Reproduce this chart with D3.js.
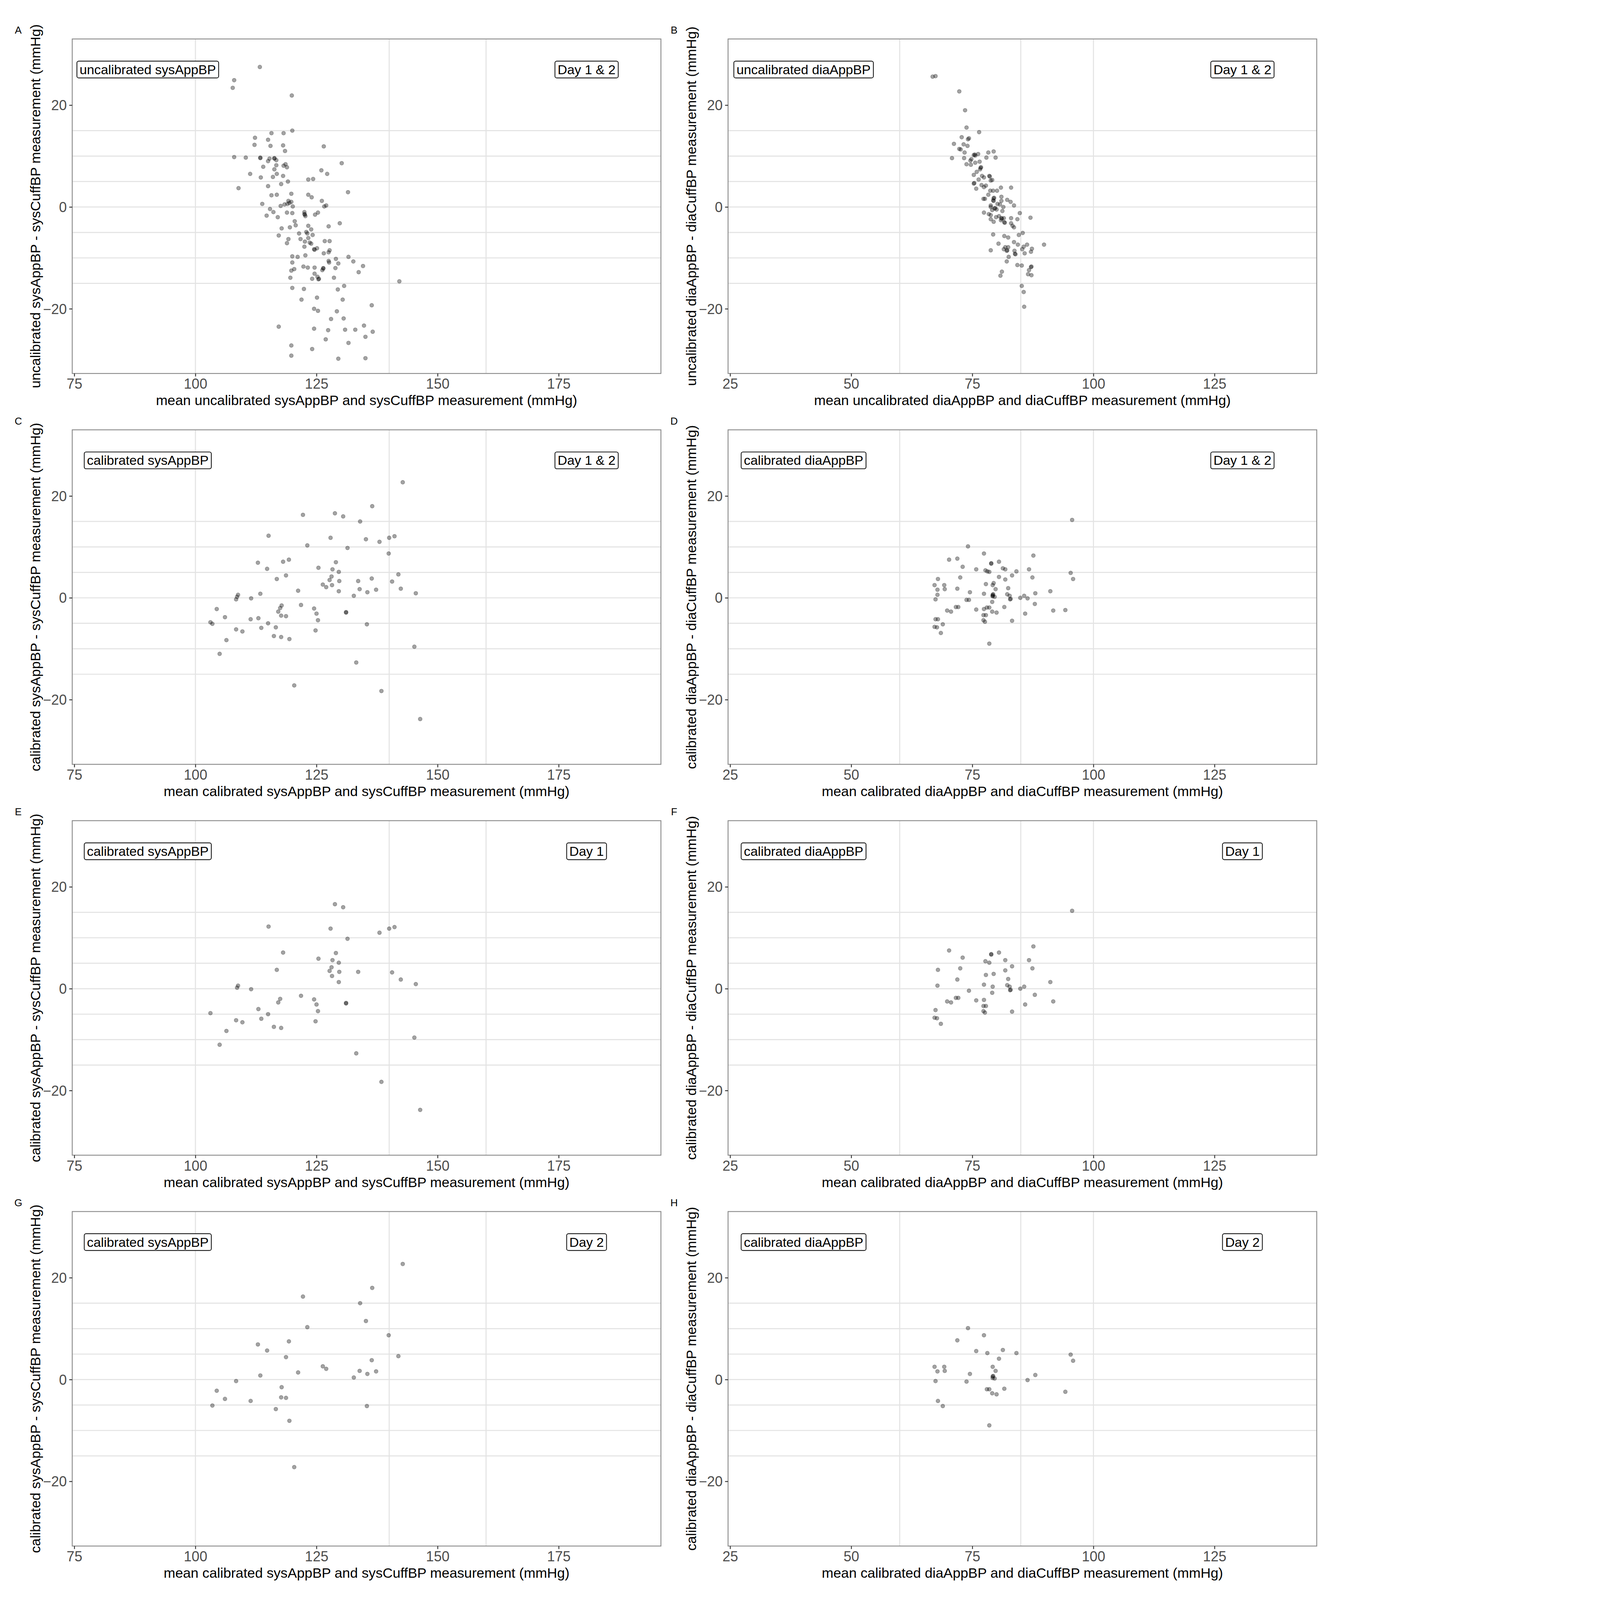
<!DOCTYPE html>
<html><head><meta charset="utf-8">
<script src="https://cdn.jsdelivr.net/npm/d3@7"></script>
<style>html,body{margin:0;padding:0;width:100%;height:100%;overflow:hidden;background:#fff}svg{display:block}</style>
</head><body>
<script>
// ---------- DATA ----------
// Panel A: uncalibrated systolic, Day 1 & 2  [mean, difference]
const sysUncal = [[113.3,27.5],[108.0,24.9],[107.7,23.4],[119.9,21.9],[120.0,15.0],[115.7,14.5],[118.2,14.5],[112.3,13.6],[115.0,13.2],[112.2,12.2],[115.5,12.0],[118.1,12.1],[126.5,11.9],[118.5,11.0],[108.0,9.8],[110.4,9.7],[113.4,9.6],[113.4,9.7],[115.3,9.5],[116.3,9.5],[116.3,9.6],[116.7,9.2],[115.0,9.0],[130.2,8.6],[118.6,8.4],[118.2,8.1],[116.7,8.2],[114.0,7.9],[118.9,7.8],[116.3,7.4],[126.0,7.2],[127.2,6.5],[111.3,6.5],[116.8,6.5],[113.5,5.8],[116.0,5.9],[118.1,6.1],[123.3,5.4],[124.3,5.5],[119.1,5.0],[117.7,4.5],[115.0,4.1],[108.9,3.7],[131.5,2.9],[115.7,2.3],[116.8,2.4],[119.8,2.6],[123.3,2.4],[124.0,1.9],[126.1,1.2],[119.2,1.2],[119.8,1.0],[113.8,0.6],[118.4,0.5],[119.0,0.6],[119.4,0.8],[117.6,0.2],[126.6,0.1],[127.0,0.3],[120.1,0.1],[115.4,-0.4],[116.1,-1.0],[118.9,-1.1],[120.0,-1.2],[122.5,-1.0],[122.5,-1.4],[122.6,-1.5],[122.7,-1.8],[125.3,-1.1],[124.7,-1.5],[114.7,-1.7],[117.0,-2.0],[120.5,-2.8],[129.8,-3.2],[120.7,-3.6],[123.3,-3.7],[127.5,-3.8],[117.8,-4.2],[119.5,-4.0],[123.9,-4.4],[122.9,-4.9],[123.1,-5.2],[121.4,-5.2],[124.2,-5.5],[117.2,-5.6],[119.2,-6.3],[121.7,-6.3],[123.3,-6.1],[126.7,-6.7],[127.7,-6.7],[122.6,-6.8],[123.6,-7.0],[118.9,-7.1],[123.9,-7.2],[122.5,-7.8],[124.6,-8.4],[124.5,-8.3],[125.1,-8.1],[127.7,-8.5],[127.5,-8.9],[126.5,-9.1],[120.0,-9.7],[121.1,-9.8],[122.7,-9.5],[129.0,-10.2],[131.6,-9.8],[129.5,-11.1],[132.6,-10.7],[127.6,-10.9],[127.5,-10.6],[120.0,-10.9],[122.3,-11.7],[123.2,-11.9],[124.6,-11.9],[126.4,-12.1],[126.4,-12.0],[128.9,-12.0],[134.6,-11.6],[120.4,-12.2],[119.8,-12.5],[126.2,-12.4],[133.7,-12.8],[124.6,-13.1],[119.6,-13.9],[125.2,-13.7],[125.4,-14.2],[125.5,-14.1],[124.1,-14.1],[128.6,-13.9],[142.1,-14.6],[130.7,-15.5],[120.0,-15.9],[122.4,-16.1],[129.4,-16.2],[125.1,-17.8],[121.9,-18.2],[130.4,-18.2],[136.4,-19.3],[124.5,-20.0],[125.3,-20.4],[129.2,-20.5],[130.6,-21.9],[128.0,-22.0],[117.2,-23.5],[134.8,-23.3],[124.5,-23.9],[127.4,-24.2],[130.9,-24.1],[133.0,-24.1],[136.6,-24.5],[135.1,-25.5],[126.9,-26.0],[131.6,-26.7],[119.8,-27.2],[124.1,-27.9],[119.8,-29.2],[135.1,-29.7],[129.5,-29.8]];
// Panel B: uncalibrated diastolic, Day 1 & 2
const diaUncal = [[66.8,25.6],[67.4,25.7],[72.3,22.7],[73.5,19.0],[73.8,15.6],[76.4,14.7],[72.8,13.7],[74.3,13.5],[74.1,13.3],[71.2,12.4],[73.2,12.3],[74.0,12.0],[72.3,11.4],[72.6,11.3],[78.3,10.7],[79.4,10.9],[73.4,10.7],[76.2,10.4],[75.3,10.2],[75.6,10.1],[75.5,10.3],[70.8,9.6],[73.3,9.6],[77.9,9.7],[79.8,9.7],[74.8,9.4],[74.6,9.1],[76.5,8.9],[75.6,8.7],[73.8,8.4],[74.7,8.3],[76.7,7.7],[76.8,7.8],[76.6,7.4],[75.9,6.9],[75.3,6.3],[77.0,6.1],[77.4,5.8],[78.5,6.1],[78.6,6.0],[78.8,5.2],[76.3,5.4],[79.1,5.3],[75.3,4.6],[75.4,4.7],[76.9,4.3],[77.4,3.9],[77.8,4.2],[75.8,3.6],[78.7,3.2],[79.3,3.2],[80.1,3.2],[80.9,3.8],[83.0,3.8],[78.3,2.4],[81.0,2.0],[77.3,1.6],[77.6,1.6],[79.4,1.7],[79.5,1.8],[79.3,1.3],[79.4,1.2],[82.2,1.4],[81.0,1.2],[82.9,1.0],[80.2,0.6],[80.7,0.5],[78.8,0.3],[78.8,0.0],[83.6,0.3],[79.6,-0.3],[79.7,-0.2],[79.1,-0.6],[80.0,-0.5],[81.4,0.0],[77.4,-1.1],[78.4,-1.4],[81.2,-0.8],[84.8,-1.2],[78.8,-1.6],[80.5,-1.8],[79.9,-2.0],[81.0,-2.2],[81.1,-2.3],[81.5,-2.2],[87.0,-2.1],[78.8,-2.4],[83.0,-2.2],[84.3,-2.4],[80.9,-2.6],[81.6,-3.0],[81.7,-3.1],[79.4,-2.9],[83.0,-3.2],[83.3,-3.7],[83.6,-4.0],[79.3,-5.4],[81.6,-5.7],[85.4,-5.1],[84.6,-5.5],[82.4,-6.0],[80.4,-7.2],[83.6,-6.9],[84.4,-7.4],[86.3,-7.4],[89.8,-7.4],[85.6,-7.8],[81.8,-7.9],[82.4,-7.9],[78.8,-8.5],[81.5,-8.3],[87.3,-8.2],[85.3,-8.3],[82.1,-8.6],[82.2,-8.5],[83.7,-8.6],[83.9,-9.3],[83.8,-9.2],[87.1,-8.8],[85.8,-9.1],[82.5,-9.8],[82.1,-10.7],[84.3,-11.4],[85.2,-11.5],[87.1,-11.8],[87.2,-11.7],[86.7,-12.4],[81.1,-12.7],[80.8,-13.5],[86.5,-13.2],[87.2,-13.4],[85.2,-15.5],[85.6,-16.7],[85.7,-19.6]];
// Panel E: calibrated systolic, Day 1
const sysCalDay1 = [[128.8,16.6],[130.5,16.0],[115.1,12.2],[127.9,11.8],[138.0,11.0],[140.0,11.8],[141.1,12.1],[131.4,9.8],[118.1,7.1],[129.0,7.0],[125.4,5.9],[128.3,5.6],[129.6,5.1],[128.1,4.2],[127.7,3.5],[129.7,3.3],[133.6,3.3],[140.6,3.2],[116.8,3.7],[128.2,2.5],[142.4,1.8],[129.6,1.3],[145.5,0.9],[108.8,0.6],[108.6,0.2],[111.5,-0.1],[121.8,-1.4],[117.5,-2.0],[117.1,-2.7],[124.5,-2.1],[125.0,-3.1],[131.1,-2.8],[131.1,-2.9],[125.3,-4.4],[113.0,-4.0],[103.1,-4.8],[115.0,-5.0],[113.6,-5.9],[108.4,-6.2],[109.7,-6.6],[124.8,-6.4],[116.2,-7.5],[117.7,-7.7],[106.4,-8.3],[145.2,-9.6],[105.0,-11.0],[133.2,-12.7],[138.4,-18.3],[146.4,-23.8]];
// Panel G: calibrated systolic, Day 2
const sysCalDay2 = [[142.8,22.7],[136.5,18.0],[122.2,16.3],[134.0,15.0],[135.2,11.5],[123.1,10.3],[139.9,8.7],[119.3,7.5],[112.9,6.9],[114.8,5.7],[118.7,4.4],[141.9,4.6],[136.4,3.8],[126.3,2.6],[127.0,2.1],[133.9,1.7],[135.5,1.1],[137.3,1.6],[121.2,1.4],[113.4,0.8],[132.7,0.4],[108.4,-0.3],[117.8,-1.5],[104.4,-2.2],[106.1,-3.8],[111.4,-4.2],[117.7,-3.5],[118.7,-3.6],[103.5,-5.1],[135.4,-5.2],[116.6,-5.8],[119.4,-8.1],[120.4,-17.2]];
// Panel F: calibrated diastolic, Day 1
const diaCalDay1 = [[95.6,15.3],[87.6,8.3],[70.2,7.5],[80.5,7.1],[78.9,6.8],[78.9,6.7],[73.0,6.1],[77.7,5.4],[78.5,5.1],[81.8,5.6],[86.7,5.6],[83.2,4.4],[87.4,4.0],[67.9,3.7],[72.5,4.0],[81.8,3.6],[77.8,2.7],[79.4,2.9],[71.9,1.8],[82.4,1.9],[91.1,1.3],[67.8,0.6],[77.4,0.8],[79.2,0.4],[82.2,0.7],[82.7,0.4],[82.8,-0.3],[82.9,-0.2],[84.9,0.0],[85.7,0.4],[74.3,-0.4],[79.1,-0.8],[87.9,-1.2],[71.6,-1.8],[72.1,-1.8],[69.8,-2.5],[70.6,-2.7],[75.8,-2.3],[77.4,-2.2],[91.7,-2.5],[77.3,-3.4],[77.8,-3.4],[85.9,-3.1],[67.4,-4.2],[77.3,-4.4],[77.6,-4.7],[83.2,-4.5],[67.2,-5.7],[67.7,-5.8],[68.5,-6.9]];
// Panel H: calibrated diastolic, Day 2
const diaCalDay2 = [[74.1,10.1],[77.4,8.7],[71.9,7.7],[75.8,5.6],[78.1,5.2],[81.3,5.8],[84.1,5.2],[80.5,4.1],[95.3,4.9],[95.8,3.7],[67.2,2.5],[69.2,2.5],[67.8,1.6],[69.3,1.7],[79.2,2.5],[79.8,1.7],[74.5,1.1],[88.0,0.9],[79.2,0.6],[79.3,0.7],[79.2,0.3],[79.6,0.2],[67.4,-0.3],[73.8,-0.4],[86.4,-0.1],[78.0,-1.9],[78.5,-1.9],[81.6,-1.8],[79.1,-2.7],[80.0,-2.9],[94.2,-2.4],[67.9,-4.2],[68.9,-5.2],[78.5,-9.0]];

const yTicks = [-20, 0, 20];
const sysXTicks = [75, 100, 125, 150, 175];
const diaXTicks = [25, 50, 75, 100, 125];
const hRefLines = [-15, -10, -5, 0, 5, 10, 15];
const sysVRefLines = [100, 140, 160];
const diaVRefLines = [60, 85, 100];
const sysXDomain = [74.57, 196.1];
const diaXDomain = [24.57, 146.1];
const yDomain = [-32.7, 33.0];

const panels = [
  {tag:"A", data:sysUncal, type:"sys", left:"uncalibrated sysAppBP", right:"Day 1 & 2",
   ytitle:"uncalibrated sysAppBP - sysCuffBP measurement (mmHg)", xtitle:"mean uncalibrated sysAppBP and sysCuffBP measurement (mmHg)"},
  {tag:"B", data:diaUncal, type:"dia", left:"uncalibrated diaAppBP", right:"Day 1 & 2",
   ytitle:"uncalibrated diaAppBP - diaCuffBP measurement (mmHg)", xtitle:"mean uncalibrated diaAppBP and diaCuffBP measurement (mmHg)"},
  {tag:"C", data:sysCalDay1.concat(sysCalDay2), type:"sys", left:"calibrated sysAppBP", right:"Day 1 & 2",
   ytitle:"calibrated sysAppBP - sysCuffBP measurement (mmHg)", xtitle:"mean calibrated sysAppBP and sysCuffBP measurement (mmHg)"},
  {tag:"D", data:diaCalDay1.concat(diaCalDay2), type:"dia", left:"calibrated diaAppBP", right:"Day 1 & 2",
   ytitle:"calibrated diaAppBP - diaCuffBP measurement (mmHg)", xtitle:"mean calibrated diaAppBP and diaCuffBP measurement (mmHg)"},
  {tag:"E", data:sysCalDay1, type:"sys", left:"calibrated sysAppBP", right:"Day 1",
   ytitle:"calibrated sysAppBP - sysCuffBP measurement (mmHg)", xtitle:"mean calibrated sysAppBP and sysCuffBP measurement (mmHg)"},
  {tag:"F", data:diaCalDay1, type:"dia", left:"calibrated diaAppBP", right:"Day 1",
   ytitle:"calibrated diaAppBP - diaCuffBP measurement (mmHg)", xtitle:"mean calibrated diaAppBP and diaCuffBP measurement (mmHg)"},
  {tag:"G", data:sysCalDay2, type:"sys", left:"calibrated sysAppBP", right:"Day 2",
   ytitle:"calibrated sysAppBP - sysCuffBP measurement (mmHg)", xtitle:"mean calibrated sysAppBP and sysCuffBP measurement (mmHg)"},
  {tag:"H", data:diaCalDay2, type:"dia", left:"calibrated diaAppBP", right:"Day 2",
   ytitle:"calibrated diaAppBP - diaCuffBP measurement (mmHg)", xtitle:"mean calibrated diaAppBP and diaCuffBP measurement (mmHg)"}
];

// ---------- LAYOUT ----------
const W = 4439, H = 5338;
const colLeft = [241, 2429], plotW = 1964, plotH = 1116, rowTop0 = 130, rowStep = 1304;
const FONT = "'Liberation Sans', Arial, Helvetica, sans-serif";

const svg = d3.select("body").append("svg")
  .attr("viewBox", `0 0 ${W} ${H}`).attr("preserveAspectRatio", "xMinYMin meet")
  .style("width", "100vw").style("height", "100vh")
  .style("font-family", FONT);
svg.append("rect").attr("width", W).attr("height", H).attr("fill", "#fff");

panels.forEach((p, i) => {
  const col = i % 2, row = Math.floor(i / 2);
  const x0 = colLeft[col], y0 = rowTop0 + row * rowStep;
  const g = svg.append("g").attr("transform", `translate(${x0},${y0})`);
  const x = d3.scaleLinear().domain(p.type === "sys" ? sysXDomain : diaXDomain).range([0, plotW]);
  const y = d3.scaleLinear().domain(yDomain).range([plotH, 0]);

  g.selectAll(".h").data(hRefLines).join("line")
    .attr("x1", 0).attr("x2", plotW).attr("y1", d => y(d)).attr("y2", d => y(d))
    .attr("stroke", "#e3e3e3").attr("stroke-width", 3.5);
  g.selectAll(".v").data(p.type === "sys" ? sysVRefLines : diaVRefLines).join("line")
    .attr("y1", 0).attr("y2", plotH).attr("x1", d => x(d)).attr("x2", d => x(d))
    .attr("stroke", "#e3e3e3").attr("stroke-width", 3.5);

  g.append("g").selectAll("circle").data(p.data).join("circle")
    .attr("cx", d => x(d[0])).attr("cy", d => y(d[1])).attr("r", 6.5)
    .attr("fill", "#000").attr("fill-opacity", 0.36)
    .attr("stroke", "#000").attr("stroke-opacity", 0.3).attr("stroke-width", 1.6);

  g.append("rect").attr("width", plotW).attr("height", plotH)
    .attr("fill", "none").attr("stroke", "#8c8c8c").attr("stroke-width", 3);

  const xa = g.append("g").attr("transform", `translate(0,${plotH})`)
    .call(d3.axisBottom(x).tickValues(p.type === "sys" ? sysXTicks : diaXTicks).tickSize(10).tickPadding(8));
  const ya = g.append("g").call(d3.axisLeft(y).tickValues(yTicks).tickSize(10).tickPadding(8)
    .tickFormat(d => d < 0 ? "\u2212" + Math.abs(d) : d));
  [xa, ya].forEach(a => {
    a.select(".domain").remove();
    a.selectAll(".tick line").attr("stroke", "#333").attr("stroke-width", 3);
    a.selectAll(".tick text").attr("fill", "#4d4d4d").style("font-size", "47px").style("font-family", FONT);
  });
  ya.selectAll(".tick text").attr("dy", "0.35em");

  g.append("text").attr("x", plotW / 2).attr("y", plotH + 106).attr("text-anchor", "middle")
    .style("font-size", "46.5px").attr("fill", "#000").text(p.xtitle);
  g.append("text").attr("transform", `translate(-107,${plotH / 2}) rotate(-90)`)
    .attr("text-anchor", "middle").style("font-size", "46.5px").attr("fill", "#000").text(p.ytitle);

  g.append("text").attr("x", -180).attr("y", -18).attr("text-anchor", "middle")
    .style("font-size", "34px").attr("fill", "#000").text(p.tag);

  [[p.left, 252], [p.right, 1716]].forEach(([t, cx]) => {
    const lg = g.append("g");
    const tx = lg.append("text").attr("x", cx).attr("y", 102).attr("dy", "0.35em")
      .attr("text-anchor", "middle").style("font-size", "44px").attr("fill", "#000").text(t);
    const bb = tx.node().getBBox();
    lg.insert("rect", "text").attr("x", bb.x - 9).attr("y", 102 - 28).attr("width", bb.width + 18)
      .attr("height", 56).attr("rx", 6).attr("fill", "#fff").attr("stroke", "#000").attr("stroke-width", 2.5);
  });
});
</script>
</body></html>
